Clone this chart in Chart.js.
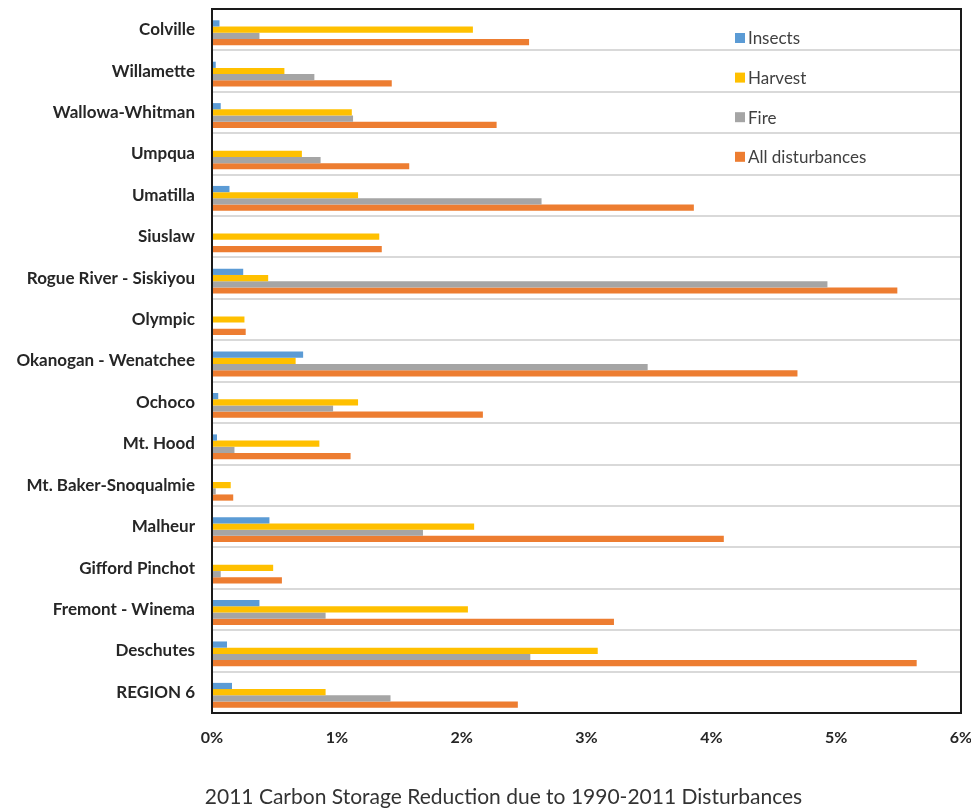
<!DOCTYPE html>
<html>
<head>
<meta charset="utf-8">
<script src="https://cdn.jsdelivr.net/npm/chart.js@4.4.0/dist/chart.umd.min.js"></script>
<style>
  html, body { margin: 0; padding: 0; background: #fff; }
  #wrap { width: 971px; height: 811px; position: relative; }
</style>
</head>
<body>
<div id="wrap"><canvas id="c" width="971" height="811"></canvas></div>
<script>
const categories = ["Colville", "Willamette", "Wallowa-Whitman", "Umpqua", "Umatilla", "Siuslaw",
  "Rogue River - Siskiyou", "Olympic", "Okanogan - Wenatchee", "Ochoco", "Mt. Hood",
  "Mt. Baker-Snoqualmie", "Malheur", "Gifford Pinchot", "Fremont - Winema", "Deschutes", "REGION 6"];
const insects = [0.06, 0.03, 0.07, 0, 0.14, 0, 0.25, 0, 0.73, 0.05, 0.04, 0, 0.46, 0, 0.38, 0.12, 0.16];
const harvest = [2.09, 0.58, 1.12, 0.72, 1.17, 1.34, 0.45, 0.26, 0.67, 1.17, 0.86, 0.15, 2.10, 0.49, 2.05, 3.09, 0.91];
const fire = [0.38, 0.82, 1.13, 0.87, 2.64, 0, 4.93, 0, 3.49, 0.97, 0.18, 0.03, 1.69, 0.07, 0.91, 2.55, 1.43];
const allDisturbances = [2.54, 1.44, 2.28, 1.58, 3.86, 1.36, 5.49, 0.27, 4.69, 2.17, 1.11, 0.17, 4.10, 0.56, 3.22, 5.645, 2.45];
const seriesNames = ["Insects", "Harvest", "Fire", "All disturbances"];
const seriesColors = ["#5B9BD5", "#FFC000", "#A5A5A5", "#ED7D31"];
const xTickValues = [0, 1, 2, 3, 4, 5, 6];
const titleText = "2011 Carbon Storage Reduction due to 1990-2011 Disturbances";

const seriesData = [insects, harvest, fire, allDisturbances];
const FONT = 'Lato, "Open Sans", sans-serif';

const shiftPlugin = {
  id: 'shiftBars',
  beforeDatasetsDraw(chart) { chart.ctx.save(); chart.ctx.translate(0, 3); },
  afterDatasetsDraw(chart) { chart.ctx.restore(); }
};

const framePlugin = {
  id: 'frame',
  afterDraw(chart) {
    const ctx = chart.ctx, a = chart.chartArea;
    ctx.save();
    ctx.strokeStyle = '#1a1a1a';
    ctx.lineWidth = 2;
    ctx.strokeRect(a.left, a.top, a.right - a.left, a.bottom - a.top);
    ctx.restore();
  }
};

const legendPlugin = {
  id: 'insideLegend',
  afterDraw(chart) {
    const ctx = chart.ctx, a = chart.chartArea;
    ctx.save();
    ctx.font = '17px ' + FONT;
    ctx.textBaseline = 'middle';
    chart.data.datasets.forEach((ds, i) => {
      const y = a.top + 29 + i * 39.6;
      const x = a.left + 523;
      ctx.fillStyle = ds.backgroundColor;
      ctx.fillRect(x, y - 5, 10, 10);
      ctx.fillStyle = '#404040';
      ctx.fillText(ds.label, x + 13, y + 1);
    });
    ctx.restore();
  }
};

const bottomTitlePlugin = {
  id: 'bottomTitle',
  afterDraw(chart) {
    const ctx = chart.ctx;
    ctx.save();
    ctx.font = '21px ' + FONT;
    ctx.fillStyle = '#333333';
    ctx.textAlign = 'center';
    ctx.textBaseline = 'middle';
    ctx.fillText(titleText, chart.width / 2 + 18, chart.height - 14);
    ctx.restore();
  }
};

new Chart(document.getElementById('c'), {
  type: 'bar',
  data: {
    labels: categories,
    datasets: seriesNames.map((n, i) => ({
      label: n,
      data: seriesData[i],
      backgroundColor: seriesColors[i],
      borderWidth: 0,
      categoryPercentage: 0.6,
      barPercentage: 1.0
    }))
  },
  options: {
    indexAxis: 'y',
    responsive: false,
    animation: false,
    devicePixelRatio: 1,
    layout: { padding: { top: 9, right: 10, left: 0, bottom: 48 } },
    plugins: {
      legend: { display: false },
      tooltip: { enabled: false },
      title: { display: false }
    },
    scales: {
      x: {
        min: 0, max: 6,
        afterBuildTicks(scale) { scale.ticks = xTickValues.map(v => ({ value: v })); },
        afterFit(scale) { scale.height = 50; scale.paddingLeft = 0; scale.paddingRight = 0; },
        grid: { display: false, drawTicks: false },
        border: { display: false },
        ticks: {
          padding: 15,
          color: '#262626',
          font: { family: FONT, size: 16, weight: 'bold' },
          callback: v => v + '%'
        }
      },
      y: {
        afterFit(scale) { scale.width = 212; scale.paddingTop = 0; scale.paddingBottom = 0; },
        grid: { display: true, offset: true, color: '#d9d9d9', lineWidth: 2, drawTicks: false },
        border: { display: true, color: '#1a1a1a', width: 2 },
        ticks: {
          padding: 17,
          color: '#262626',
          font: { family: FONT, size: 17, weight: 'bold' }
        }
      }
    }
  },
  plugins: [shiftPlugin, framePlugin, legendPlugin, bottomTitlePlugin]
});
</script>
</body>
</html>
